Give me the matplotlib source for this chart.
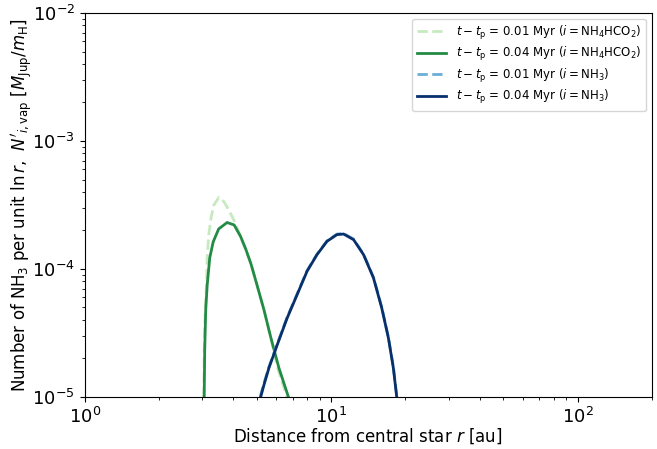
import matplotlib
matplotlib.use('Agg')
import matplotlib.pyplot as plt

# values (r in au, N' in M_Jup/m_H)
r_hco_01 = [3.040, 3.053, 3.083, 3.120, 3.140, 3.190, 3.260, 3.342, 3.502, 3.668, 3.842,
            4.025, 4.218, 4.431, 4.728, 5.000, 5.337, 5.696, 6.079, 6.610]
n_hco_01 = [1.0e-5, 2.33e-5, 4.79e-5, 7.50e-5, 1.241e-4, 1.892e-4, 2.547e-4, 3.162e-4, 3.624e-4, 3.364e-4, 2.891e-4,
            2.415e-4, 1.946e-4, 1.514e-4, 1.094e-4, 7.50e-5, 4.79e-5, 2.84e-5, 1.655e-5, 1.0e-5]

r_hco_04 = [3.053, 3.068, 3.097, 3.140, 3.215, 3.320, 3.495, 3.782, 4.037, 4.289, 4.493,
            4.728, 5.000, 5.337, 5.696, 6.137, 6.706]
n_hco_04 = [1.0e-5, 2.33e-5, 4.79e-5, 7.50e-5, 1.219e-4, 1.625e-4, 2.054e-4, 2.306e-4, 2.208e-4, 1.795e-4, 1.445e-4,
            1.094e-4, 7.50e-5, 4.79e-5, 2.89e-5, 1.685e-5, 1.0e-5]

r_nh3_01 = [5.150, 5.310, 5.570, 6.020, 6.610, 7.260, 7.970, 8.750, 9.610, 10.55, 11.23,
            12.33, 13.55, 14.87, 16.06, 17.09, 17.90, 18.48]
n_nh3_01 = [1.0e-5, 1.24e-5, 1.685e-5, 2.55e-5, 4.15e-5, 6.32e-5, 9.65e-5, 1.30e-4, 1.655e-4, 1.872e-4, 1.895e-4,
            1.71e-4, 1.30e-4, 8.55e-5, 4.98e-5, 2.9e-5, 1.69e-5, 1.0e-5]

r_nh3_04 = [5.176, 5.337, 5.591, 6.039, 6.630, 7.274, 7.982, 8.762, 9.617, 10.55, 11.23,
            12.33, 13.53, 14.85, 16.04, 17.07, 17.88, 18.45]
n_nh3_04 = [1.0e-5, 1.241e-5, 1.685e-5, 2.547e-5, 4.14e-5, 6.29e-5, 9.59e-5, 1.294e-4, 1.644e-4, 1.854e-4, 1.875e-4,
            1.694e-4, 1.294e-4, 8.51e-5, 4.96e-5, 2.89e-5, 1.685e-5, 1.0e-5]

fig, ax = plt.subplots(figsize=(6.57, 4.49), dpi=100)
fig.subplots_adjust(left=0.129, right=0.992, bottom=0.116, top=0.971)

ax.plot(r_hco_01, n_hco_01, '--', color='#c7e9c0', lw=2,
        label=r'$t-t_\mathrm{p}$ = 0.01 Myr ($i=\mathrm{NH_4HCO_2}$)')
ax.plot(r_hco_04, n_hco_04, '-', color='#238b45', lw=2,
        label=r'$t-t_\mathrm{p}$ = 0.04 Myr ($i=\mathrm{NH_4HCO_2}$)')
ax.plot(r_nh3_01, n_nh3_01, '--', color='#6baed6', lw=2,
        label=r'$t-t_\mathrm{p}$ = 0.01 Myr ($i=\mathrm{NH_3}$)')
ax.plot(r_nh3_04, n_nh3_04, '-', color='#08306b', lw=2,
        label=r'$t-t_\mathrm{p}$ = 0.04 Myr ($i=\mathrm{NH_3}$)')

ax.set_xscale('log')
ax.set_yscale('log')
ax.set_xlim(1, 200)
ax.set_ylim(1e-5, 1e-2)
ax.tick_params(labelsize=13)
ax.set_xlabel(r'Distance from central star $r$ [au]', fontsize=12, labelpad=0)
ax.set_ylabel(r"Number of NH$_3$ per unit $\ln r$,  $N'_{i,\mathrm{vap}}$ [$M_\mathrm{Jup}/m_\mathrm{H}$]",
              fontsize=12, labelpad=-2)
ax.legend(loc='upper right', fontsize=8.5, labelspacing=0.3, handlelength=2.5)

plt.savefig('out.png')
